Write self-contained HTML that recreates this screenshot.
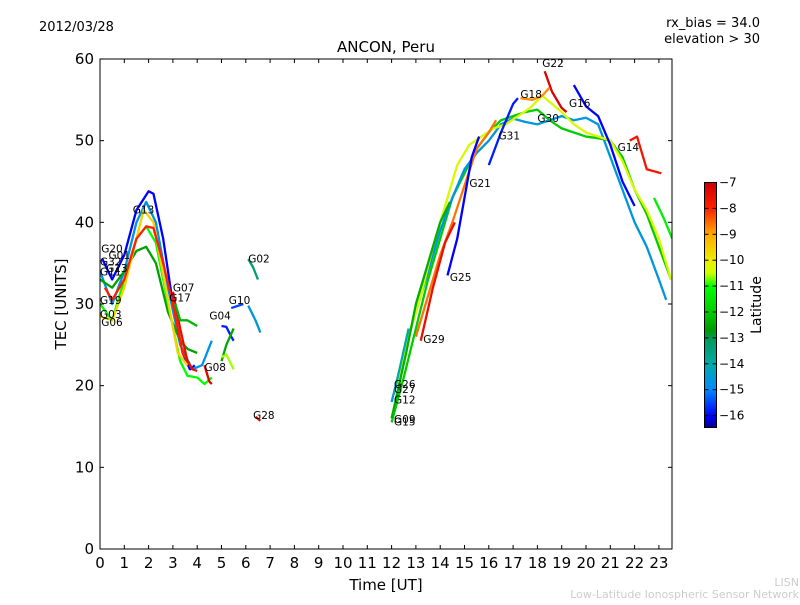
<!DOCTYPE html>
<html><head><meta charset="utf-8"><style>
body{margin:0;background:#fff;font-family:"Liberation Sans","DejaVu Sans",sans-serif}
svg text{font-family:"DejaVu Sans","Liberation Sans",sans-serif}
</style></head><body>
<svg id="chart" width="800" height="600" xmlns="http://www.w3.org/2000/svg">
<defs><linearGradient id="jet" x1="0" y1="1" x2="0" y2="0">
<stop offset="0" stop-color="#00008f"/><stop offset="0.048" stop-color="#0000ff"/><stop offset="0.153" stop-color="#0088ff"/><stop offset="0.259" stop-color="#00aaaa"/><stop offset="0.365" stop-color="#009955"/><stop offset="0.397" stop-color="#009900"/><stop offset="0.47" stop-color="#00cc00"/><stop offset="0.577" stop-color="#00ff00"/><stop offset="0.63" stop-color="#ccff00"/><stop offset="0.683" stop-color="#eeee00"/><stop offset="0.788" stop-color="#ffaa00"/><stop offset="0.894" stop-color="#ff2000"/><stop offset="1" stop-color="#cc0000"/>
</linearGradient>
<clipPath id="plotclip"><rect x="100" y="59" width="572" height="490"/></clipPath></defs>
<text x="39" y="31" font-size="13">2012/03/28</text>
<text x="760" y="27" font-size="13" text-anchor="end">rx_bias = 34.0</text>
<text x="760" y="43" font-size="13" text-anchor="end">elevation &gt; 30</text>
<text x="386" y="52" font-size="15" text-anchor="middle">ANCON, Peru</text>
<g id="marks" clip-path="url(#plotclip)"></g>
<g id="labels"></g>
<rect x="100" y="59" width="572" height="490" fill="none" stroke="#000" stroke-width="1"/>
<g id="axes"></g>
<text x="386" y="590" font-size="15" text-anchor="middle">Time [UT]</text>
<text x="66" y="304" font-size="15" text-anchor="middle" transform="rotate(-90 66 304)">TEC [UNITS]</text>
<rect x="704.5" y="182.5" width="12" height="245" fill="url(#jet)" stroke="#000"/>
<g id="cbar"></g>
<text x="761" y="305" font-size="14" text-anchor="middle" transform="rotate(-90 761 305)">Latitude</text>
<text x="799" y="586" font-size="11" fill="#ccc" text-anchor="end">LISN</text>
<text x="799" y="598" font-size="11" fill="#ccc" text-anchor="end">Low-Latitude Ionospheric Sensor Network</text>
</svg>
<script>
const xTicks=[0,1,2,3,4,5,6,7,8,9,10,11,12,13,14,15,16,17,18,19,20,21,22,23];
const yTicks=[0,10,20,30,40,50,60];
const cTicks=[-7,-8,-9,-10,-11,-12,-13,-14,-15,-16];
const trackLats=[-16,-14.7,-12.6,-11,-9.6,-8,-7.5,-12.3,-7.3,-15.8,-15.5,-12.5,-10.6,-13.3,-14.6,-7.3,
 -12,-14.6,-10.3,-8.6,-7.5,-16,-15.8,-7.2,-8.8,-16,-7.7,-11.3,-12.4,-14];
const trackTimes=[
[0.1,0.5,1,1.5,2,2.2,2.6,3,3.4,3.7,3.9],
[0,0.5,1,1.5,1.9,2.3,2.8,3.3,3.8,4.2,4.6],
[0,0.5,1,1.5,1.9,2.3,2.8,3.3,3.6,4],
[0,0.5,1,1.5,1.9,2.3,2.8,3.3,3.6,4,4.3,4.6],
[0,0.5,1,1.5,1.8,2.2,2.7,3.2,3.6],
[0.2,0.5,1,1.5,1.9,2.2,2.6,3,3.4,3.8],
[3,3.3,3.6,3.8,4],
[3.1,3.3,3.6,4],
[4.3,4.5,4.6],
[5,5.2,5.4,5.5],
[5.4,5.7,5.9],
[5,5.2,5.5],
[5,5.2,5.5],
[6.1,6.3,6.5],
[6.1,6.4,6.6],
[6.4,6.6],
[12,12.5,13,13.5,14,14.5,15,15.5,16,16.5,17,17.5,18,18.5,19,19.5,20,20.5,21,21.5,22,22.5,23,23.5],
[12,12.5,13,13.5,14,14.5,15,15.5,16,16.5,17,17.5,18,18.5,19,19.5,20,20.5,21,21.5,22,22.5,23,23.3],
[12.2,12.7,13.2,13.7,14.2,14.7,15.2,15.7,16.2,16.7,17.2,17.7,18.2,18.6,19,19.5,20,20.5,21,21.5,22,22.5,23,23.5],
[13,13.5,14,14.5,15,15.5,16,16.3],
[13.2,13.7,14.2,14.6],
[14.3,14.7,15,15.3,15.6],
[16,16.5,17,17.2],
[18.3,18.6,19,19.2],
[17.3,17.8,18.2,18.5],
[19.5,20,20.5,21,21.5,22],
[21.8,22.1,22.5,23.1],
[22.8,23.2,23.55],
[12,12.3,12.6,13,13.5,14,14.4],
[12.1,12.4,12.7]];
const trackTec=[
[35.5,33,36,41.5,43.8,43.5,38,30,24,22,22.5],
[34,30,34,40,42.5,40,32,25,22,22.5,25.5],
[33,32,34,36.5,37,35,29,25.5,24.5,24],
[30,28,33,38,39.5,37.5,30,23,21.2,21,20.2,21],
[28.5,28,32,38,41.5,40,32,24,22.5],
[32,30.5,33,38,39.5,39.3,35,30,24,22],
[31.5,27,23,22,21.8],
[30,28,28,27.3],
[22.5,20.5,20.2],
[27.3,27.2,26,25.5],
[29.5,29.8,30],
[23,25,27],
[23.5,23.8,22],
[35.5,34.5,33],
[29.8,28,26.5],
[16.2,15.7],
[15.5,21,27,33,38,43,46,49,51,52.5,53,53.5,53.8,52.5,51.5,51,50.5,50.3,50,48,44,41,37,33],
[18,24,29,34,39,43,46.5,48.5,50,52,52.7,52.3,52,52.5,53,52.5,52.8,52,48,44,40,37,33,30.5],
[20,26,31,37,42,47,49.5,50.5,51.5,52,53,54,55.5,54.5,53.5,52,51,50.5,50,47.5,44,41.5,38,33],
[26,31,36,40,44.5,49,51,52.5],
[25.5,32,37.5,40],
[33.5,38,43,48,50.5],
[47,51,54.5,55.2],
[58.5,56,54,53.5],
[55.2,55,55.5,56.5],
[56.8,54.2,53,49.5,45,42],
[50,50.5,46.5,46],
[43,40.5,38],
[16,20,24,30,35,40,42.5],
[19,23,27]];
const X=t=>100+t*24.3, Y=v=>549-v*8.167;
const CY=l=>182.5+(-7-l)*25.9;
const cmapL=[-16.45,-16,-15,-14,-13,-12.7,-12,-11,-10.5,-10,-9,-8,-7];
const cmapC=[[0,0,143],[0,0,255],[0,136,255],[0,170,170],[0,153,85],[0,153,0],[0,204,0],[0,255,0],[204,255,0],[238,238,0],[255,170,0],[255,32,0],[204,0,0]];
function jet(l){l=Math.max(-16.45,Math.min(-7,l));
 for(let i=0;i<cmapL.length-1;i++){if(l<=cmapL[i+1]){const f=(l-cmapL[i])/(cmapL[i+1]-cmapL[i]);
  const c=cmapC[i].map((v,k)=>Math.round(v+(cmapC[i+1][k]-v)*f));return `rgb(${c})`;}}
 return 'rgb(204,0,0)';}
const NS="http://www.w3.org/2000/svg";
const marks=document.getElementById('marks');
trackTimes.forEach((ts,i)=>{const p=document.createElementNS(NS,'polyline');
 p.setAttribute('points',ts.map((t,j)=>X(t)+','+Y(trackTec[i][j])).join(' '));
 p.setAttribute('fill','none');p.setAttribute('stroke',jet(trackLats[i]));
 p.setAttribute('stroke-width','2.3');p.setAttribute('stroke-linejoin','round');
 
 
 marks.appendChild(p);});
const labelNames=['G20','G01','G32','G11','G23','G19','G03','G06','G13','G07','G17','G04','G08','G10','G02','G28','G22','G18','G16','G30','G31','G14','G21','G25','G29','G26','G27','G12','G09','G15'];
const labelT=[0.05,0.35,0.0,0.0,0.25,0.0,0.0,0.05,1.35,3.0,2.85,4.5,4.3,5.3,6.1,6.3,18.2,17.3,19.3,18.0,16.4,21.3,15.2,14.4,13.3,12.1,12.1,12.1,12.1,12.1];
const labelV=[36.8,36.0,35.2,34.0,34.4,30.5,28.8,27.8,41.6,32.0,30.8,28.6,22.3,30.5,35.6,16.4,59.5,55.7,54.6,52.8,50.6,49.2,44.8,33.3,25.7,20.2,19.6,18.3,15.9,15.6];
const lg=document.getElementById('labels');
labelNames.forEach((n,i)=>{const t=document.createElementNS(NS,'text');
 t.setAttribute('x',X(labelT[i]));t.setAttribute('y',Y(labelV[i])+4);
 t.setAttribute('font-size','10.5');t.textContent=n;
 
 
 lg.appendChild(t);});
const ax=document.getElementById('axes');
let h='';
xTicks.forEach(t=>{h+=`<line x1="${X(t)}" y1="549" x2="${X(t)}" y2="545" stroke="#000"/><line x1="${X(t)}" y1="59" x2="${X(t)}" y2="63" stroke="#000"/><text x="${X(t)}" y="568" font-size="15" text-anchor="middle">${t}</text>`;});
yTicks.forEach(v=>{h+=`<line x1="100" y1="${Y(v)}" x2="104" y2="${Y(v)}" stroke="#000"/><line x1="672" y1="${Y(v)}" x2="668" y2="${Y(v)}" stroke="#000"/><text x="94" y="${Y(v)+5}" font-size="15" text-anchor="end">${v}</text>`;});
ax.innerHTML=h;
let c='';
cTicks.forEach(l=>{c+=`<line x1="712.5" y1="${CY(l)}" x2="716.5" y2="${CY(l)}" stroke="#000"/><line x1="704.5" y1="${CY(l)}" x2="708.5" y2="${CY(l)}" stroke="#000"/><text x="719" y="${CY(l)+4}" font-size="12">\u2212${-l}</text>`;});
document.getElementById('cbar').innerHTML=c;
</script>
</body></html>
